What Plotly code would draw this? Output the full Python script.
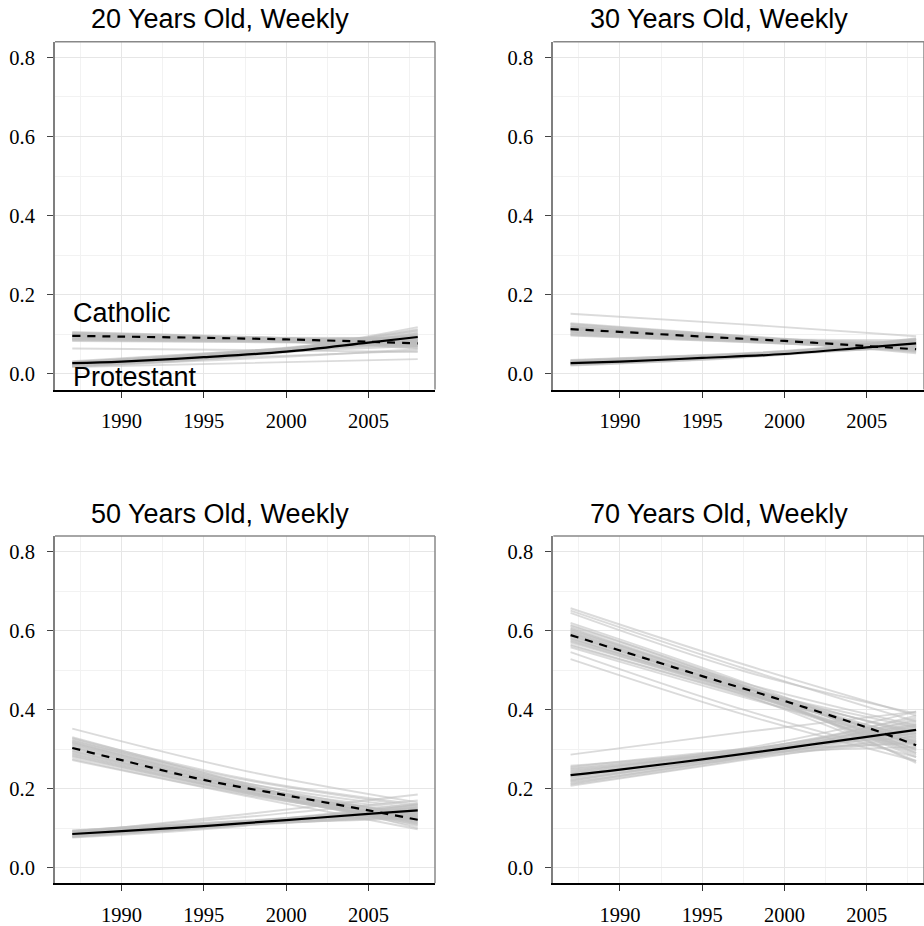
import plotly.graph_objects as go

# ---------------- data ----------------
titles = ["20 Years Old, Weekly", "30 Years Old, Weekly",
          "50 Years Old, Weekly", "70 Years Old, Weekly"]

years_main = [1987, 1990, 1995, 2000, 2005, 2008]
years_sim = [1987, 1997.5, 2008]

x_ticks = [1990, 1995, 2000, 2005]
y_ticks = [0.0, 0.2, 0.4, 0.6, 0.8]
y_tick_labels = ["0.0", "0.2", "0.4", "0.6", "0.8"]

# main estimated curves
prot_20 = [0.027, 0.031, 0.042, 0.056, 0.079, 0.093]
cath_20 = [0.096, 0.094, 0.091, 0.087, 0.081, 0.077]
prot_30 = [0.027, 0.031, 0.040, 0.050, 0.067, 0.077]
cath_30 = [0.113, 0.106, 0.094, 0.083, 0.070, 0.062]
prot_50 = [0.085, 0.092, 0.105, 0.120, 0.136, 0.145]
cath_50 = [0.303, 0.272, 0.222, 0.183, 0.145, 0.121]
prot_70 = [0.234, 0.248, 0.274, 0.302, 0.331, 0.349]
cath_70 = [0.589, 0.550, 0.485, 0.422, 0.355, 0.310]

# simulated draws: values at 1987, 1997.5, 2008
sim_prot_20 = [
    [0.024, 0.052, 0.100], [0.020, 0.050, 0.110], [0.028, 0.056, 0.088],
    [0.026, 0.054, 0.095], [0.018, 0.046, 0.118], [0.030, 0.058, 0.085],
    [0.025, 0.050, 0.080], [0.022, 0.049, 0.104], [0.027, 0.055, 0.092],
    [0.029, 0.053, 0.075], [0.021, 0.047, 0.097], [0.023, 0.053, 0.108],
    [0.032, 0.058, 0.082], [0.026, 0.051, 0.070], [0.019, 0.045, 0.090],
    [0.028, 0.057, 0.099], [0.017, 0.027, 0.037], [0.020, 0.038, 0.062],
    [0.024, 0.042, 0.058], [0.025, 0.053, 0.086], [0.023, 0.051, 0.093],
    [0.027, 0.052, 0.102], [0.021, 0.048, 0.084], [0.029, 0.055, 0.096],
    [0.024, 0.050, 0.113],
]
sim_cath_20 = [
    [0.100, 0.091, 0.080], [0.095, 0.088, 0.080], [0.092, 0.086, 0.078],
    [0.104, 0.093, 0.076], [0.088, 0.084, 0.082], [0.098, 0.088, 0.071],
    [0.090, 0.085, 0.086], [0.102, 0.092, 0.084], [0.085, 0.081, 0.075],
    [0.097, 0.087, 0.068], [0.094, 0.089, 0.090], [0.106, 0.094, 0.078],
    [0.083, 0.080, 0.079], [0.099, 0.090, 0.088], [0.091, 0.084, 0.072],
    [0.096, 0.086, 0.064], [0.087, 0.085, 0.094], [0.101, 0.089, 0.074],
    [0.064, 0.060, 0.055], [0.093, 0.087, 0.083], [0.097, 0.089, 0.077],
    [0.089, 0.083, 0.070], [0.103, 0.090, 0.066], [0.086, 0.083, 0.087],
    [0.099, 0.092, 0.091],
]
sim_prot_30 = [
    [0.027, 0.046, 0.077], [0.024, 0.044, 0.082], [0.030, 0.048, 0.072],
    [0.022, 0.043, 0.088], [0.033, 0.050, 0.070], [0.026, 0.047, 0.084],
    [0.029, 0.046, 0.068], [0.021, 0.041, 0.078], [0.035, 0.052, 0.076],
    [0.025, 0.045, 0.090], [0.031, 0.049, 0.080], [0.023, 0.044, 0.073],
    [0.028, 0.048, 0.086], [0.034, 0.051, 0.066], [0.026, 0.045, 0.079],
    [0.030, 0.049, 0.083], [0.024, 0.043, 0.070], [0.032, 0.050, 0.088],
]
sim_cath_30 = [
    [0.112, 0.088, 0.062], [0.118, 0.091, 0.064], [0.106, 0.085, 0.066],
    [0.125, 0.095, 0.060], [0.100, 0.082, 0.068], [0.115, 0.087, 0.055],
    [0.109, 0.086, 0.072], [0.122, 0.092, 0.058], [0.097, 0.080, 0.064],
    [0.113, 0.090, 0.078], [0.128, 0.096, 0.066], [0.104, 0.083, 0.058],
    [0.119, 0.089, 0.052], [0.111, 0.089, 0.085], [0.101, 0.084, 0.075],
    [0.116, 0.088, 0.061], [0.152, 0.125, 0.095], [0.108, 0.087, 0.069],
    [0.120, 0.093, 0.070], [0.098, 0.081, 0.060], [0.126, 0.094, 0.057],
    [0.104, 0.086, 0.080], [0.114, 0.089, 0.067],
]
sim_prot_50 = [
    [0.085, 0.113, 0.145], [0.080, 0.110, 0.150], [0.090, 0.116, 0.140],
    [0.078, 0.108, 0.155], [0.093, 0.118, 0.135], [0.083, 0.111, 0.148],
    [0.088, 0.114, 0.130], [0.076, 0.106, 0.160], [0.091, 0.117, 0.152],
    [0.082, 0.112, 0.138], [0.087, 0.115, 0.158], [0.079, 0.109, 0.128],
    [0.094, 0.119, 0.145], [0.084, 0.110, 0.125], [0.088, 0.135, 0.185],
    [0.092, 0.128, 0.170], [0.086, 0.112, 0.142], [0.081, 0.109, 0.136],
    [0.089, 0.116, 0.162], [0.077, 0.107, 0.132],
]
sim_cath_50 = [
    [0.303, 0.200, 0.121], [0.315, 0.208, 0.125], [0.290, 0.193, 0.118],
    [0.325, 0.215, 0.130], [0.280, 0.188, 0.115], [0.310, 0.202, 0.108],
    [0.297, 0.199, 0.135], [0.320, 0.210, 0.112], [0.275, 0.185, 0.120],
    [0.305, 0.205, 0.145], [0.330, 0.212, 0.100], [0.285, 0.192, 0.128],
    [0.300, 0.196, 0.105], [0.318, 0.214, 0.150], [0.293, 0.198, 0.140],
    [0.272, 0.182, 0.097], [0.312, 0.206, 0.132], [0.288, 0.190, 0.110],
    [0.352, 0.245, 0.165], [0.328, 0.225, 0.160], [0.322, 0.222, 0.155],
    [0.307, 0.203, 0.127], [0.295, 0.195, 0.113], [0.283, 0.190, 0.123],
    [0.316, 0.207, 0.117],
]
sim_prot_70 = [
    [0.234, 0.289, 0.349], [0.225, 0.284, 0.360], [0.245, 0.295, 0.340],
    [0.215, 0.280, 0.375], [0.255, 0.300, 0.330], [0.230, 0.287, 0.385],
    [0.240, 0.292, 0.315], [0.210, 0.275, 0.355], [0.250, 0.298, 0.370],
    [0.220, 0.283, 0.325], [0.258, 0.302, 0.395], [0.228, 0.286, 0.305],
    [0.238, 0.291, 0.365], [0.218, 0.279, 0.340], [0.247, 0.296, 0.380],
    [0.207, 0.272, 0.335], [0.286, 0.343, 0.395], [0.236, 0.290, 0.352],
    [0.242, 0.293, 0.358], [0.222, 0.282, 0.345], [0.252, 0.299, 0.362],
    [0.212, 0.277, 0.320],
]
sim_cath_70 = [
    [0.589, 0.452, 0.310], [0.600, 0.458, 0.300], [0.575, 0.445, 0.320],
    [0.612, 0.465, 0.290], [0.565, 0.440, 0.330], [0.595, 0.450, 0.280],
    [0.582, 0.448, 0.345], [0.620, 0.470, 0.305], [0.558, 0.432, 0.315],
    [0.605, 0.462, 0.335], [0.570, 0.438, 0.270], [0.592, 0.455, 0.355],
    [0.615, 0.460, 0.265], [0.578, 0.446, 0.300], [0.598, 0.457, 0.325],
    [0.562, 0.436, 0.295], [0.608, 0.468, 0.360], [0.585, 0.447, 0.285],
    [0.657, 0.515, 0.385], [0.651, 0.505, 0.370], [0.645, 0.498, 0.390],
    [0.546, 0.400, 0.280], [0.528, 0.388, 0.270], [0.587, 0.450, 0.318],
    [0.603, 0.460, 0.312], [0.573, 0.442, 0.298], [0.594, 0.456, 0.340],
    [0.580, 0.444, 0.290],
]

panels = [
    (prot_20, cath_20, sim_prot_20, sim_cath_20),
    (prot_30, cath_30, sim_prot_30, sim_cath_30),
    (prot_50, cath_50, sim_prot_50, sim_cath_50),
    (prot_70, cath_70, sim_prot_70, sim_cath_70),
]

# ---------------- layout geometry ----------------
W, H = 924, 926
x_dom = [(55 / W, 435 / W), (553.3 / W, 1.0)] * 2
y_dom = [((926 - 393) / H, (926 - 42) / H)] * 2 + [((926 - 891) / H, (926 - 540.7) / H)] * 2
x_rng = [(1985.95, 2009.05), (1985.95, 2008.48)] * 2
title_pos = [(220 / W, (926 - 19.5) / H), (719 / W, (926 - 19.5) / H),
             (220 / W, (926 - 518) / H), (719 / W, (926 - 518) / H)]

GRAY = "rgba(190,190,190,0.55)"
tick_font = dict(family="Liberation Serif", size=20.5, color="black")
sans = "Liberation Sans, Arial, sans-serif"

fig = go.Figure()
shapes = []
annotations = []

for i, (prot, cath, sp, sc) in enumerate(panels):
    k = "" if i == 0 else str(i + 1)
    xa, ya = "x" + k, "y" + k
    for vals in sp + sc:
        fig.add_trace(go.Scatter(x=years_sim, y=vals, mode="lines",
                                 line=dict(color=GRAY, width=1.9, shape="spline"),
                                 xaxis=xa, yaxis=ya, hoverinfo="skip", showlegend=False))
    fig.add_trace(go.Scatter(x=years_main, y=cath, mode="lines",
                             line=dict(color="black", width=2.2, dash="8px,7px", shape="spline"),
                             xaxis=xa, yaxis=ya, showlegend=False))
    fig.add_trace(go.Scatter(x=years_main, y=prot, mode="lines",
                             line=dict(color="black", width=2.2, shape="spline"),
                             xaxis=xa, yaxis=ya, showlegend=False))

    fig.layout["xaxis" + k] = dict(
        domain=x_dom[i], range=x_rng[i], anchor=ya,
        tickmode="array", tickvals=x_ticks, ticktext=[str(t) for t in x_ticks],
        showgrid=True, gridcolor="#e6e6e6", gridwidth=1.2,
        minor=dict(tickmode="array", tickvals=[1987.5, 1992.5, 1997.5, 2002.5, 2007.5],
                   showgrid=True, gridcolor="#f2f2f2", gridwidth=1, ticklen=0),
        showline=True, linecolor="black", linewidth=2,
        ticks="outside", ticklen=6, tickwidth=1.2, tickcolor="#333333",
        tickfont=tick_font, ticklabelstandoff=6, zeroline=False, fixedrange=True,
    )
    fig.layout["yaxis" + k] = dict(
        domain=y_dom[i], range=[-0.04, 0.84], anchor=xa,
        tickmode="array", tickvals=y_ticks, ticktext=y_tick_labels,
        showgrid=True, gridcolor="#e6e6e6", gridwidth=1.2,
        minor=dict(tickmode="array", tickvals=[0.1, 0.3, 0.5, 0.7],
                   showgrid=True, gridcolor="#f2f2f2", gridwidth=1, ticklen=0),
        showline=True, linecolor="#7f7f7f", linewidth=2,
        ticks="outside", ticklen=6, tickwidth=1.2, tickcolor="#444444",
        tickfont=tick_font, ticklabelstandoff=8, zeroline=False, fixedrange=True,
    )
    # top and right panel borders
    shapes.append(dict(type="line", xref=xa + " domain", yref=ya + " domain",
                       x0=0, x1=1, y0=1, y1=1, line=dict(color="#888888", width=1.5)))
    shapes.append(dict(type="line", xref=xa + " domain", yref=ya + " domain",
                       x0=1, x1=1, y0=0, y1=1, line=dict(color="#888888", width=1.5)))
    annotations.append(dict(text=titles[i], xref="paper", yref="paper",
                            x=title_pos[i][0], y=title_pos[i][1],
                            xanchor="center", yanchor="middle", showarrow=False,
                            font=dict(family=sans, size=27, color="black")))

annotations.append(dict(text="Catholic", xref="x", yref="y", x=1986.9, y=0.153,
                        xanchor="left", yanchor="middle", showarrow=False,
                        font=dict(family=sans, size=27, color="black")))
annotations.append(dict(text="Protestant", xref="x", yref="y", x=1986.9, y=-0.008,
                        xanchor="left", yanchor="middle", showarrow=False,
                        font=dict(family=sans, size=27, color="black")))

fig.update_layout(
    width=W, height=H, autosize=False,
    margin=dict(l=0, r=0, t=0, b=0),
    paper_bgcolor="white", plot_bgcolor="white",
    shapes=shapes, annotations=annotations, showlegend=False,
)

fig.write_html("out.html", post_script="document.body.style.margin='0';",
               config={"displayModeBar": False})
